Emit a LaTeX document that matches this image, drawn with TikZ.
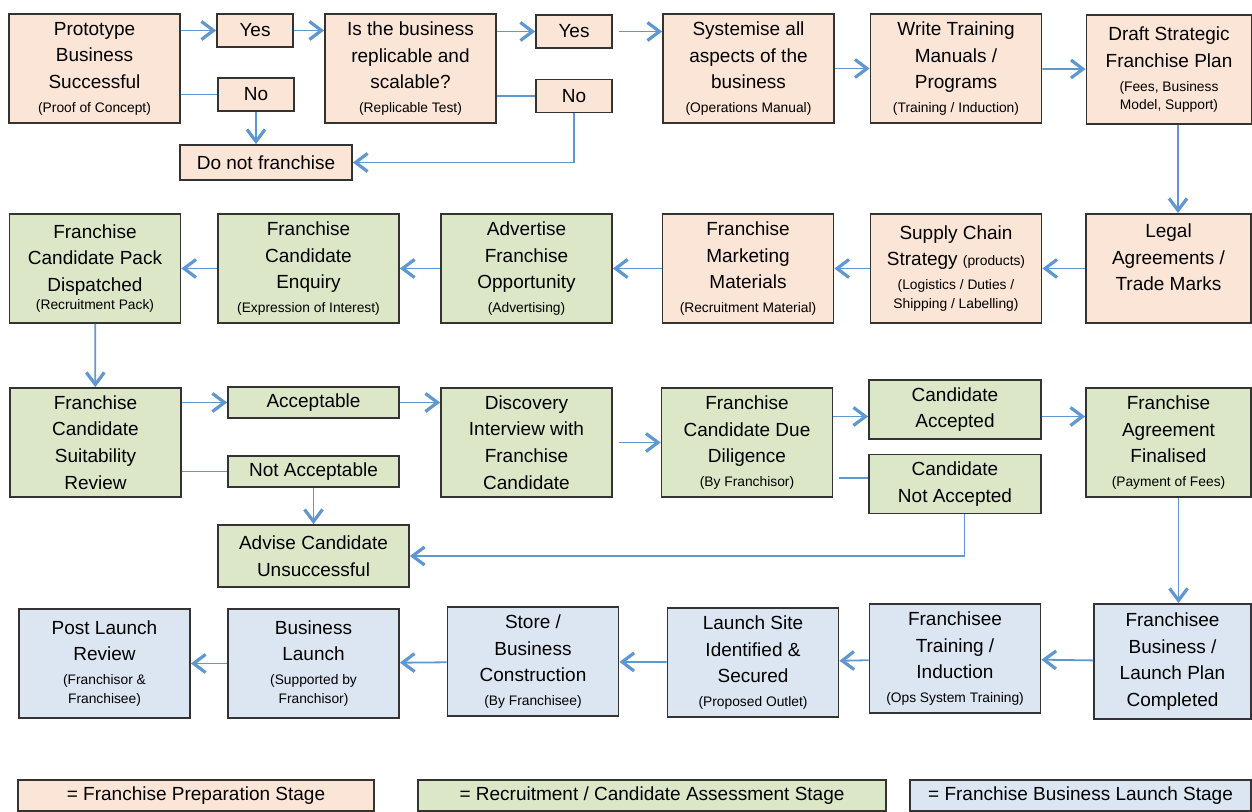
\documentclass[tikz,border=0pt]{standalone}
\usepackage{fontspec}
\setmainfont{Liberation Sans}
\usepackage{tikz}
\usetikzlibrary{arrows.meta}
\usepackage{xcolor}
\definecolor{prep}{HTML}{FBE5D6}
\definecolor{recruit}{HTML}{DBE7C7}
\definecolor{launch}{HTML}{DCE6F2}
\definecolor{flow}{HTML}{5F98D1}
\tikzstyle{box} = [draw=black!80, line width=0.9pt, align=center, inner sep=1pt, font=\fontsize{9.5}{13.3}\selectfont]
\tikzstyle{big} = [box, minimum width=85.5pt, minimum height=54.5pt]
\tikzstyle{edgebox} = [box, minimum width=82.5pt, minimum height=54.5pt]
\tikzstyle{choice} = [box, minimum width=38pt, minimum height=16.5pt]
\tikzstyle{arrow} = [draw=flow, line width=0.9pt, -{Straight Barb[length=6pt,width=9pt,line width=1.6pt]}]
\tikzstyle{link} = [draw=flow, line width=0.9pt]
\newcommand{\subtext}[1]{{\fontsize{6.9}{9.5}\selectfont #1}}

\begin{document}
\begin{tikzpicture}[x=0.5pt, y=-0.5pt]
        \useasboundingbox (0,0) rectangle (1252,812);
        % preparation stage
        \node[big, fill=prep] (proto) at (94.5,68.5) {Prototype\\Business\\Successful\\[-1.5pt]\subtext{(Proof of Concept)}};
        \node[choice, fill=prep] (yes1) at (255,30.5) {Yes};
        \node[choice, fill=prep] (no1) at (256,94.5) {No};
        \node[box, fill=prep, minimum width=86pt, minimum height=17.5pt] (dont) at (266,162.5) {Do not franchise};
        \node[big, fill=prep] (repl) at (410.5,68.5) {Is the business\\replicable and\\scalable?\\[-1.5pt]\subtext{(Replicable Test)}};
        \node[choice, fill=prep] (yes2) at (574,31.5) {Yes};
        \node[choice, fill=prep] (no2) at (574,96) {No};
        \node[big, fill=prep] (syst) at (748.5,68.5) {Systemise all\\aspects of the\\business\\[-1.5pt]\subtext{(Operations Manual)}};
        \node[big, fill=prep] (write) at (956,68.5) {Write Training\\Manuals /\\Programs\\[-1.5pt]\subtext{(Training / Induction)}};
        \node[edgebox, fill=prep] (draft) at (1169,69.5) {Draft Strategic\\Franchise Plan\\[-1.3pt]\subtext{(Fees, Business}\\[-4.5pt]\subtext{Model, Support)}};
        \node[edgebox, fill=prep, text depth=11pt] (legal) at (1168.5,268.5) {Legal\\Agreements /\\Trade Marks};
        \node[big, fill=prep] (supply) at (956,268.5) {Supply Chain\\Strategy \subtext{(products)}\\[-1.5pt]\subtext{(Logistics / Duties /}\\[-3.8pt]\subtext{Shipping / Labelling)}};
        \node[big, fill=prep] (mkt) at (748,268.5) {Franchise\\Marketing\\Materials\\[-1.5pt]\subtext{(Recruitment Material)}};
        % recruitment stage
        \node[big, fill=recruit] (adv) at (526.5,268.5) {Advertise\\Franchise\\Opportunity\\[-1.5pt]\subtext{(Advertising)}};
        \node[big, fill=recruit, minimum width=90.5pt] (enq) at (308.5,268.5) {Franchise\\Candidate\\Enquiry\\[-1.5pt]\subtext{(Expression of Interest)}};
        \node[big, fill=recruit] (pack) at (95,268.5) {Franchise\\Candidate Pack\\Dispatched\\[-4pt]\subtext{(Recruitment Pack)}};
        \node[big, fill=recruit] (review) at (95.5,442.5) {Franchise\\Candidate\\Suitability\\Review};
        \node[box, fill=recruit, minimum width=85.5pt, minimum height=15.5pt] (acc) at (313.5,402.5) {Acceptable};
        \node[box, fill=recruit, minimum width=85.5pt, minimum height=15.5pt] (notacc) at (313.5,471.5) {Not Acceptable};
        \node[box, fill=recruit, minimum width=95.5pt, minimum height=31pt] (advise) at (313.5,556) {Advise Candidate\\Unsuccessful};
        \node[big, fill=recruit] (disc) at (526.5,442.5) {Discovery\\Interview with\\Franchise\\Candidate};
        \node[big, fill=recruit] (dil) at (747,442.5) {Franchise\\Candidate Due\\Diligence\\[-1.5pt]\subtext{(By Franchisor)}};
        \node[box, fill=recruit, minimum width=86pt, minimum height=29.5pt] (cacc) at (955,409.5) {Candidate\\Accepted};
        \node[box, fill=recruit, minimum width=86pt, minimum height=29.5pt] (cnot) at (955,484) {Candidate\\Not Accepted};
        \node[edgebox, fill=recruit] (agree) at (1168.5,442.5) {Franchise\\Agreement\\Finalised\\[-1.5pt]\subtext{(Payment of Fees)}};
        % launch stage
        \node[box, fill=launch, minimum width=78.5pt, minimum height=57.5pt] (fbiz) at (1172.5,661.5) {Franchisee\\Business /\\Launch Plan\\Completed};
        \node[big, fill=launch] (ftrain) at (955,658.5) {Franchisee\\Training /\\Induction\\[-1.5pt]\subtext{(Ops System Training)}};
        \node[big, fill=launch] (site) at (753,662.5) {Launch Site\\Identified \&\\Secured\\[-1.5pt]\subtext{(Proposed Outlet)}};
        \node[big, fill=launch] (store) at (533,661.5) {Store /\\Business\\Construction\\[-1.5pt]\subtext{(By Franchisee)}};
        \node[big, fill=launch] (bizl) at (313.5,663.5) {Business\\Launch\\[-1.5pt]\subtext{(Supported by}\\[-3.8pt]\subtext{Franchisor)}};
        \node[big, fill=launch] (post) at (104.5,663.5) {Post Launch\\Review\\[-1.5pt]\subtext{(Franchisor \&}\\[-3.8pt]\subtext{Franchisee)}};
        % key
        \node[box, fill=prep, line width=0.6pt, minimum width=178pt, minimum height=15.5pt] (keyprep) at (196,795.5) {= Franchise Preparation Stage};
        \node[box, fill=recruit, line width=0.6pt, minimum width=234pt, minimum height=15.5pt] (keyrec) at (652,795.5) {= Recruitment / Candidate Assessment Stage};
        \node[box, fill=launch, line width=0.6pt, minimum width=170.5pt, minimum height=15.5pt] (keylaunch) at (1080.5,795.5) {= Franchise Business Launch Stage};

        \coordinate (dtop) at ([xshift=4.5pt]draft.south);
        \coordinate (atop) at ([xshift=5pt]agree.south);
        \coordinate (cin) at ([yshift=-3.5pt]cacc.west);
        \coordinate (cout) at ([yshift=-3.5pt]cacc.east);
        \coordinate (nin) at ([yshift=3pt]cnot.west);
        \coordinate (nout) at ([xshift=4.75pt]cnot.south);

        \draw[arrow] (proto.east |- yes1.west) -- (yes1.west);
        \draw[link] (proto.east |- no1.west) -- (no1.west);
        \draw[arrow] (yes1.east) -- (repl.west |- yes1.east);
        \draw[arrow] (no1.south) -- (no1.south |- dont.north);
        \draw[arrow] (repl.east |- yes2.west) -- (yes2.west);
        \draw[link] (repl.east |- no2.west) -- (no2.west);
        \draw[arrow] (no2.south) |- (dont.east);
        \draw[arrow, shorten <=3pt] (yes2.east) -- (syst.west |- yes2.east);
        \draw[arrow] (syst) edge (write)
        (write) edge (draft);
        \draw[arrow] (dtop) -- (dtop |- legal.north);
        \draw[arrow] (legal) edge (supply)
        (supply) edge (mkt)
        (mkt) edge (adv)
        (adv) edge (enq)
        (enq) edge (pack)
        (pack) edge (review);
        \draw[arrow] (review.east |- acc.west) -- (acc.west);
        \draw[link] (review.east |- notacc.west) -- (notacc.west);
        \draw[arrow] (notacc) -- (advise);
        \draw[arrow] (acc.east) -- (disc.west |- acc.east);
        \draw[arrow, shorten <=3pt] (disc) -- (dil);
        \draw[arrow] (dil.east |- cin) -- (cin);
        \draw[link, shorten <=3pt] (dil.east |- nin) -- (nin);
        \draw[arrow] (cout) -- (agree.west |- cout);
        \draw[arrow] (nout) |- (advise.east);
        \draw[arrow] (atop) -- (atop |- fbiz.north);
        \draw[arrow] (fbiz) edge (ftrain)
        (ftrain) edge (site)
        (site) edge (store)
        (store) edge (bizl)
        (bizl) edge (post);
      \end{tikzpicture}
\end{document}
